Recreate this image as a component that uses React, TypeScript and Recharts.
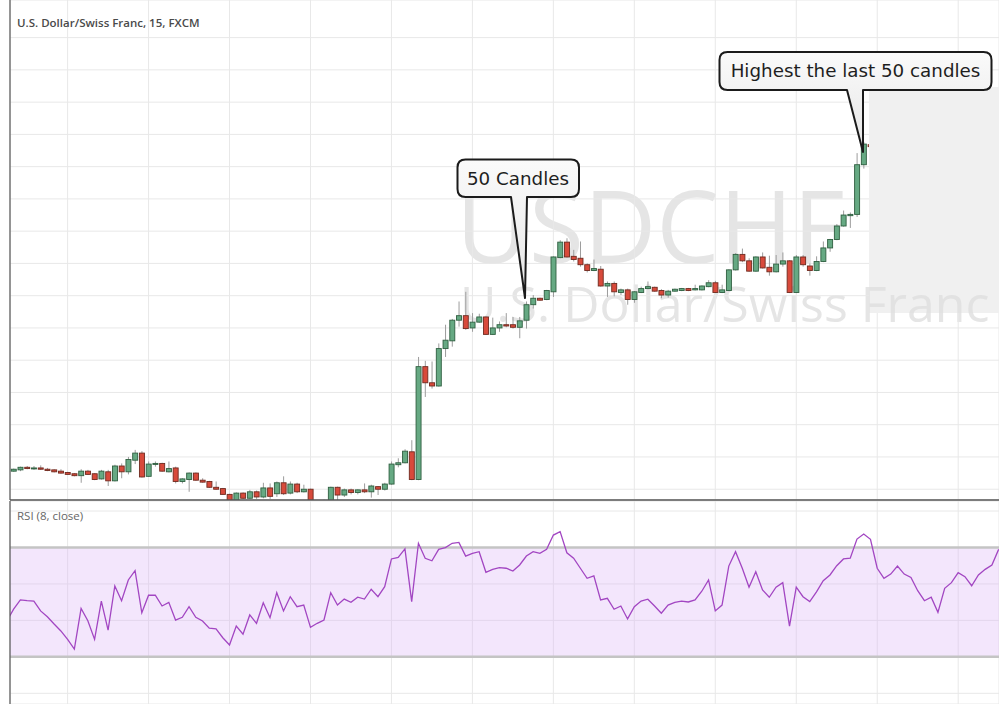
import React from 'react';
import {
  ComposedChart, LineChart, Line, Bar, XAxis, YAxis, CartesianGrid,
  ReferenceArea, ReferenceLine,
} from 'recharts';

// ---------- DATA ----------
const FIRST_CANDLE = -8; // index of first 15-min candle
const candleOpen = [
  0.95528, 0.95530, 0.95534, 0.95532, 0.95533, 0.95531, 0.95530, 0.95528, 0.95526, 0.95524,
  0.95521, 0.95528, 0.95524, 0.95516, 0.95527, 0.95513, 0.95536, 0.95527, 0.95545, 0.95556,
  0.95520, 0.95539, 0.95540, 0.95527, 0.95533, 0.95512, 0.95515, 0.95525, 0.95514, 0.95512,
  0.95503, 0.95501, 0.95492, 0.95482, 0.95494, 0.95486, 0.95496, 0.95488, 0.95502, 0.95493,
  0.95510, 0.95494, 0.95508, 0.95496, 0.95500, 0.95480, 0.95477, 0.95480, 0.95503, 0.95491,
  0.95499, 0.95495, 0.95499, 0.95496, 0.95504, 0.95500, 0.95508, 0.95538, 0.95541, 0.95558,
  0.95515, 0.95690, 0.95665, 0.95660, 0.95718, 0.95730, 0.95762, 0.95769, 0.95750, 0.95759,
  0.95767, 0.95740, 0.95750, 0.95755, 0.95755, 0.95751, 0.95762, 0.95786, 0.95796, 0.95794,
  0.95806, 0.95859, 0.95883, 0.95861, 0.95858, 0.95848, 0.95839, 0.95841, 0.95815, 0.95819,
  0.95805, 0.95809, 0.95794, 0.95805, 0.95811, 0.95813, 0.95808, 0.95801, 0.95807, 0.95808,
  0.95811, 0.95809, 0.95809, 0.95814, 0.95820, 0.95805, 0.95808, 0.95840, 0.95864, 0.95854,
  0.95838, 0.95860, 0.95844, 0.95837, 0.95849, 0.95854, 0.95805, 0.95860, 0.95846, 0.95839,
  0.95853, 0.95874, 0.95887, 0.95908, 0.95924, 0.95926, 0.96003, 0.96034,
];
const candleHigh = [
  0.95532, 0.95535, 0.95536, 0.95536, 0.95537, 0.95533, 0.95531, 0.95531, 0.95527, 0.95525,
  0.95531, 0.95530, 0.95525, 0.95530, 0.95530, 0.95538, 0.95540, 0.95550, 0.95561, 0.95559,
  0.95543, 0.95543, 0.95541, 0.95543, 0.95535, 0.95517, 0.95526, 0.95526, 0.95517, 0.95513,
  0.95512, 0.95502, 0.95493, 0.95495, 0.95495, 0.95499, 0.95498, 0.95510, 0.95509, 0.95512,
  0.95520, 0.95512, 0.95510, 0.95507, 0.95501, 0.95482, 0.95484, 0.95504, 0.95504, 0.95501,
  0.95501, 0.95500, 0.95509, 0.95507, 0.95505, 0.95510, 0.95543, 0.95548, 0.95562, 0.95576,
  0.95705, 0.95699, 0.95698, 0.95726, 0.95755, 0.95764, 0.95791, 0.95806, 0.95773, 0.95772,
  0.95768, 0.95766, 0.95760, 0.95773, 0.95767, 0.95767, 0.95791, 0.95801, 0.95797, 0.95809,
  0.95861, 0.95886, 0.95889, 0.95871, 0.95884, 0.95850, 0.95856, 0.95846, 0.95822, 0.95822,
  0.95811, 0.95811, 0.95807, 0.95814, 0.95822, 0.95814, 0.95810, 0.95809, 0.95811, 0.95812,
  0.95812, 0.95817, 0.95816, 0.95824, 0.95823, 0.95817, 0.95841, 0.95866, 0.95873, 0.95858,
  0.95861, 0.95867, 0.95862, 0.95863, 0.95867, 0.95855, 0.95863, 0.95863, 0.95850, 0.95861,
  0.95884, 0.95888, 0.95911, 0.95932, 0.95929, 0.96021, 0.96038, 0.96035,
];
const candleLow = [
  0.95527, 0.95528, 0.95531, 0.95530, 0.95530, 0.95528, 0.95526, 0.95524, 0.95522, 0.95520,
  0.95510, 0.95522, 0.95514, 0.95515, 0.95505, 0.95512, 0.95517, 0.95523, 0.95539, 0.95518,
  0.95519, 0.95535, 0.95527, 0.95526, 0.95509, 0.95509, 0.95496, 0.95513, 0.95510, 0.95502,
  0.95499, 0.95491, 0.95479, 0.95480, 0.95485, 0.95485, 0.95485, 0.95486, 0.95485, 0.95488,
  0.95491, 0.95492, 0.95494, 0.95495, 0.95479, 0.95472, 0.95474, 0.95479, 0.95483, 0.95488,
  0.95492, 0.95492, 0.95494, 0.95487, 0.95491, 0.95498, 0.95507, 0.95534, 0.95540, 0.95514,
  0.95514, 0.95643, 0.95656, 0.95659, 0.95705, 0.95721, 0.95752, 0.95747, 0.95744, 0.95758,
  0.95739, 0.95739, 0.95744, 0.95751, 0.95749, 0.95734, 0.95749, 0.95780, 0.95792, 0.95793,
  0.95798, 0.95858, 0.95859, 0.95853, 0.95845, 0.95836, 0.95838, 0.95814, 0.95798, 0.95799,
  0.95801, 0.95786, 0.95789, 0.95804, 0.95810, 0.95806, 0.95796, 0.95797, 0.95806, 0.95807,
  0.95807, 0.95808, 0.95808, 0.95813, 0.95804, 0.95804, 0.95807, 0.95839, 0.95852, 0.95837,
  0.95837, 0.95842, 0.95831, 0.95836, 0.95845, 0.95804, 0.95804, 0.95845, 0.95831, 0.95838,
  0.95852, 0.95868, 0.95886, 0.95907, 0.95905, 0.95922, 0.95997, 0.96030,
];
const candleClose = [
  0.95531, 0.95534, 0.95532, 0.95533, 0.95531, 0.95529, 0.95527, 0.95525, 0.95523, 0.95521,
  0.95528, 0.95523, 0.95515, 0.95528, 0.95513, 0.95536, 0.95527, 0.95546, 0.95556, 0.95519,
  0.95539, 0.95540, 0.95528, 0.95532, 0.95512, 0.95516, 0.95525, 0.95514, 0.95511, 0.95503,
  0.95500, 0.95492, 0.95480, 0.95494, 0.95486, 0.95496, 0.95488, 0.95502, 0.95489, 0.95510,
  0.95493, 0.95508, 0.95496, 0.95500, 0.95480, 0.95476, 0.95481, 0.95503, 0.95491, 0.95499,
  0.95495, 0.95499, 0.95496, 0.95505, 0.95500, 0.95508, 0.95539, 0.95541, 0.95559, 0.95515,
  0.95690, 0.95665, 0.95660, 0.95718, 0.95731, 0.95762, 0.95769, 0.95749, 0.95759, 0.95767,
  0.95740, 0.95750, 0.95755, 0.95753, 0.95751, 0.95761, 0.95786, 0.95796, 0.95793, 0.95808,
  0.95860, 0.95883, 0.95860, 0.95856, 0.95848, 0.95839, 0.95842, 0.95815, 0.95819, 0.95806,
  0.95809, 0.95794, 0.95806, 0.95811, 0.95814, 0.95807, 0.95801, 0.95807, 0.95810, 0.95811,
  0.95808, 0.95811, 0.95815, 0.95820, 0.95805, 0.95809, 0.95840, 0.95864, 0.95854, 0.95838,
  0.95860, 0.95843, 0.95837, 0.95849, 0.95854, 0.95805, 0.95860, 0.95848, 0.95839, 0.95853,
  0.95874, 0.95887, 0.95908, 0.95925, 0.95926, 0.96003, 0.96035, 0.96031,
];

const FIRST_RSI = -9;
const rsiValues = [
  39.7, 46.2, 51.2, 50.8, 50.6, 45.2, 42.0, 38.0, 34.2, 29.6,
  24.3, 46.6, 39.8, 29.6, 50.6, 34.7, 58.9, 50.8, 62.2, 67.3,
  44.2, 53.8, 53.9, 47.9, 49.9, 40.2, 41.7, 47.5, 41.7, 39.7,
  35.7, 35.3, 30.5, 26.5, 36.9, 32.4, 43.0, 38.4, 49.7, 41.5,
  55.2, 45.2, 53.0, 47.5, 48.4, 36.2, 38.4, 40.2, 55.2, 48.4,
  51.7, 49.9, 52.7, 51.7, 57.1, 53.0, 58.5, 73.7, 74.6, 79.2,
  50.3, 82.3, 74.1, 72.7, 79.0, 79.9, 82.3, 82.8, 75.3, 76.8,
  77.7, 66.4, 68.0, 68.9, 68.6, 67.1, 70.4, 75.3, 77.7, 76.8,
  79.0, 86.8, 88.7, 77.1, 74.1, 68.6, 63.1, 64.4, 51.2, 52.1,
  46.1, 47.9, 40.8, 47.5, 50.6, 51.6, 47.9, 43.9, 48.4, 49.9,
  50.6, 50.1, 51.2, 56.0, 62.2, 45.2, 48.4, 69.8, 77.7, 68.6,
  58.2, 66.7, 56.7, 52.7, 58.2, 60.7, 36.9, 58.2, 53.0, 50.3,
  55.7, 61.8, 64.9, 70.0, 73.7, 74.1, 84.6, 87.4, 84.5, 68.6,
  63.1, 65.4, 69.8, 65.4, 63.6, 56.3, 50.8, 52.7, 44.4, 57.6,
  60.7, 66.2, 64.0, 59.0, 64.9, 68.0, 70.4, 79.0,
];

const priceTicks = [0.955, 0.9555, 0.956, 0.9565, 0.957, 0.9575, 0.958, 0.9585, 0.959, 0.9595, 0.96, 0.9605, 0.961, 0.9615, 0.962];
const rsiTicks = [0, 20, 40, 60, 80, 100];
const timeTicks = [0, 12, 24, 36, 48, 60, 72, 84, 96, 108, 120, 132];

const TITLE = 'U.S. Dollar/Swiss Franc, 15, FXCM';
const RSI_LABEL = 'RSI (8, close)';
const WATERMARK_1 = 'USDCHF';
const WATERMARK_2 = 'U.S. Dollar/Swiss Franc';
const NOTE_1 = '50 Candles';
const NOTE_2 = 'Highest the last 50 candles';

// ---------- BUILD ROWS ----------
const candles = candleOpen.map((o, i) => ({
  k: FIRST_CANDLE + i,
  open: o,
  high: candleHigh[i],
  low: candleLow[i],
  close: candleClose[i],
  range: [candleLow[i], candleHigh[i]],
}));
const rsiRows = rsiValues.map((v, i) => ({ k: FIRST_RSI + i, rsi: v }));

const X_DOMAIN: [number, number] = [-8.537, 138.05];
const PRICE_DOMAIN: [number, number] = [0.954833, 0.962583];
const RSI_DOMAIN: [number, number] = [-5.87, 105.5];

const GRID = '#e8e8e8';
const AXIS = '#555555';

const NoTick = () => <g />;

const Candle = (props: any) => {
  const { x, y, width, height, payload } = props;
  if (x == null || y == null || !payload) return null;
  const top = Math.min(y, y + height);
  const bot = Math.max(y, y + height);
  const span = payload.high - payload.low;
  const py = (v: number) => (span === 0 ? top : top + ((payload.high - v) / span) * (bot - top));
  const up = payload.close >= payload.open;
  const bTop = py(Math.max(payload.open, payload.close));
  const bBot = py(Math.min(payload.open, payload.close));
  const cx = x + width / 2;
  return (
    <g>
      <line x1={cx} x2={cx} y1={top} y2={bot} stroke="#9c9c9c" strokeWidth={1} />
      <rect
        x={x}
        y={bTop}
        width={width}
        height={Math.max(bBot - bTop, 1)}
        fill={up ? '#66a983' : '#d84a3b'}
        stroke={up ? '#2f5f40' : '#6f2a1f'}
        strokeWidth={0.9}
      />
    </g>
  );
};

const Callout = ({ l, r, t, b, baseL, baseR, tipX, tipY, text, tx, ty }: any) => {
  const rad = 8;
  const d = `M ${l + rad} ${t} H ${r - rad} Q ${r} ${t} ${r} ${t + rad} V ${b - rad} Q ${r} ${b} ${r - rad} ${b}
    H ${baseR} L ${tipX} ${tipY} L ${baseL} ${b} H ${l + rad} Q ${l} ${b} ${l} ${b - rad} V ${t + rad} Q ${l} ${t} ${l + rad} ${t} Z`;
  return (
    <g>
      <path d={d} fill="url(#calloutFill)" stroke="#1b1b1b" strokeWidth={2} strokeLinejoin="round" />
      <text x={tx} y={ty} textAnchor="middle" fontFamily="'DejaVu Sans', Verdana, sans-serif" fontSize={18.3} fill="#1e1e1e">
        {text}
      </text>
    </g>
  );
};

const wm1Style = { fontFamily: "'Open Sans', sans-serif", fontSize: 100, fill: '#e5e5e5' };
const wm2Style = { fontFamily: "'Open Sans', sans-serif", fontSize: 50, fill: '#e5e5e5' };

export default function App() {
  return (
    <div style={{ position: 'absolute', left: 0, top: 0, width: 999, height: 704, background: '#fff', overflow: 'hidden' }}>
      {/* watermark behind the price panel */}
      <svg width={999} height={500} style={{ position: 'absolute', left: 0, top: 0, pointerEvents: 'none' }}>
        <text x={456} y={263} style={wm1Style}>{WATERMARK_1}</text>
        <text x={460} y={322} style={wm2Style}>{WATERMARK_2}</text>
      </svg>

      {/* main price panel */}
      <div style={{ position: 'absolute', left: 0, top: 0 }}>
        <ComposedChart width={999} height={501} data={candles} margin={{ top: 0, right: 0, bottom: 0, left: 0 }}>
          <CartesianGrid stroke={GRID} strokeWidth={1} />
          <XAxis
            dataKey="k" type="number" domain={X_DOMAIN} ticks={timeTicks} allowDataOverflow interval={0}
            tick={NoTick} tickLine={false} height={1} axisLine={{ stroke: AXIS, strokeWidth: 1.5 }}
          />
          <YAxis
            type="number" domain={PRICE_DOMAIN} ticks={priceTicks} allowDataOverflow interval={0}
            tick={NoTick} tickLine={false} width={10} axisLine={{ stroke: AXIS, strokeWidth: 1.2 }}
          />
          <Bar dataKey="range" barSize={5} shape={<Candle />} isAnimationActive={false} />
        </ComposedChart>
      </div>

      {/* RSI panel */}
      <div style={{ position: 'absolute', left: 0, top: 501 }}>
        <LineChart width={999} height={203} data={rsiRows} margin={{ top: 0, right: 0, bottom: 0, left: 0 }}>
          <CartesianGrid stroke={GRID} strokeWidth={1} />
          <XAxis
            dataKey="k" type="number" domain={X_DOMAIN} ticks={timeTicks} allowDataOverflow interval={0}
            tick={NoTick} tickLine={false} axisLine={false} height={0}
          />
          <YAxis
            type="number" domain={RSI_DOMAIN} ticks={rsiTicks} allowDataOverflow interval={0}
            tick={NoTick} tickLine={false} width={10} axisLine={{ stroke: AXIS, strokeWidth: 1.2 }}
          />
          <ReferenceArea y1={20} y2={80} fill="#dcb3f6" fillOpacity={0.33} stroke="none" />
          <ReferenceLine y={80} stroke="#c4c4c4" strokeWidth={2.5} />
          <ReferenceLine y={20} stroke="#c4c4c4" strokeWidth={2.5} />
          <Line dataKey="rsi" type="linear" stroke="#a246c2" strokeWidth={1.3} dot={false} isAnimationActive={false} />
        </LineChart>
      </div>

      {/* overlay: titles, callouts */}
      <svg width={999} height={704} style={{ position: 'absolute', left: 0, top: 0, pointerEvents: 'none' }}>
        <defs>
          <linearGradient id="calloutFill" x1="0" y1="0" x2="0" y2="1">
            <stop offset="0" stopColor="#fafafa" />
            <stop offset="1" stopColor="#e6e6e6" />
          </linearGradient>
          <clipPath id="boxClip">
            <rect x={869} y={87} width={130} height={226} />
          </clipPath>
        </defs>
        <rect x={869} y={87} width={130} height={226} fill="#f0f0f0" />
        <g clipPath="url(#boxClip)">
          <text x={460} y={322} style={{ ...wm2Style, fill: '#e2e2e2' }}>{WATERMARK_2}</text>
        </g>
        <text x={17} y={27} fontFamily="'Open Sans', sans-serif" fontWeight={600} fontSize={11.5} fill="#4a4a4a">{TITLE}</text>
        <text x={17} y={520} fontFamily="'Open Sans', sans-serif" fontSize={11.5} fill="#666">{RSI_LABEL}</text>
        <Callout l={457.5} r={579} t={159.5} b={197} baseL={511} baseR={527} tipX={525} tipY={298} text={NOTE_1} tx={518} ty={185} />
        <Callout l={719.5} r={991.5} t={52} b={90} baseL={847} baseR={863} tipX={863} tipY={152} text={NOTE_2} tx={855.5} ty={77} />
      </svg>
    </div>
  );
}
